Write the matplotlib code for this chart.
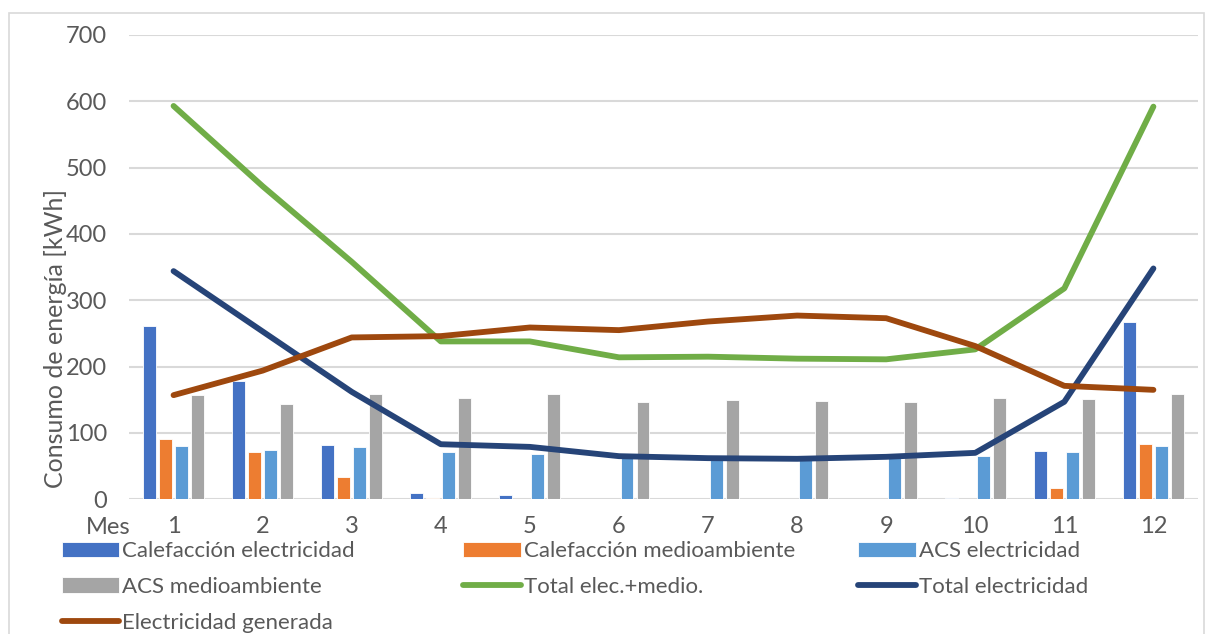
import matplotlib.pyplot as plt
import numpy as np
from matplotlib.patches import Rectangle

plt.rcParams['font.family'] = ['Lato', 'DejaVu Sans']

# Datos mensuales de consumo [kWh]
meses = [1, 2, 3, 4, 5, 6, 7, 8, 9, 10, 11, 12]
calef_elec = [262, 179, 82, 9, 6, 0, 0, 0, 0, 2, 73, 267]
calef_medio = [91, 72, 34, 2, 0, 0, 0, 0, 0, 0, 17, 84]
acs_elec = [80, 74, 79, 72, 69, 64, 62, 62, 62, 66, 72, 80]
acs_medio = [157, 143, 158, 153, 159, 147, 150, 148, 146, 153, 151, 159]
total_elec_medio = [593, 472, 358, 238, 238, 214, 215, 212, 211, 226, 318, 592]
total_elec = [344, 253, 162, 83, 79, 65, 62, 61, 64, 70, 147, 348]
elec_generada = [157, 194, 244, 246, 259, 255, 268, 277, 273, 231, 171, 165]

fig = plt.figure(figsize=(12.07, 6.34), dpi=100)
ax = fig.add_axes([0.1069, 0.2125, 0.8856, 0.7323])

x = np.array(meses)
w = 0.145
barras = [
    (calef_elec, -0.27, '#4472C4', 'Calefacción electricidad'),
    (calef_medio, -0.09, '#ED7D31', 'Calefacción medioambiente'),
    (acs_elec, 0.09, '#5B9BD5', 'ACS electricidad'),
    (acs_medio, 0.27, '#A5A5A5', 'ACS medioambiente'),
]
h = {}
for vals, off, col, lab in barras:
    h[lab] = ax.bar(x + off, vals, width=w, color=col, edgecolor='white',
                    linewidth=0.6, zorder=2, label=lab)

lineas = [
    (total_elec_medio, '#70AD47', 'Total elec.+medio.'),
    (total_elec, '#264478', 'Total electricidad'),
    (elec_generada, '#9E480E', 'Electricidad generada'),
]
for vals, col, lab in lineas:
    h[lab], = ax.plot(x, vals, color=col, lw=4.2, solid_capstyle='round',
                      solid_joinstyle='round', zorder=3, label=lab)

ax.set_xlim(0.5, 12.5)
ax.set_ylim(0, 700)
ax.set_yticks(range(0, 701, 100))
ax.set_xticks(x)
ax.set_xticklabels([str(m) for m in meses])
ax.yaxis.grid(True, color='#D9D9D9', lw=1.5, zorder=0)
ax.set_axisbelow(True)
for s in ax.spines.values():
    s.set_visible(False)
ax.tick_params(length=0, labelsize=17, colors='#595959')
ax.tick_params(axis='x', pad=12)
ax.tick_params(axis='y', pad=16)

fig.text(0.071, 1 - 527 / 634, 'Mes', fontsize=17, color='#595959', va='center')
fig.text(0.046, 1 - 338 / 634, 'Consumo de energía [kWh]', rotation=90,
         fontsize=18, color='#595959', ha='center', va='center')

# leyenda en tres columnas
columnas = [
    ['Calefacción electricidad', 'ACS medioambiente', 'Electricidad generada'],
    ['Calefacción medioambiente', 'Total elec.+medio.'],
    ['ACS electricidad', 'Total electricidad'],
]
xs = [0.051, 0.384, 0.711]
for labs, x0 in zip(columnas, xs):
    leg = fig.legend([h[l] for l in labs], labs, loc='upper left',
                     bbox_to_anchor=(x0, 0.146), frameon=False, fontsize=16,
                     handlelength=2.6, handletextpad=0.13, labelspacing=0.7,
                     borderaxespad=0, borderpad=0)
    for t in leg.get_texts():
        t.set_color('#595959')

fig.add_artist(Rectangle((0.0075, -0.1), 0.99, 1.08, transform=fig.transFigure,
                         fill=False, edgecolor='#D9D9D9', lw=1.2))

fig.savefig('out.png', dpi=100)
